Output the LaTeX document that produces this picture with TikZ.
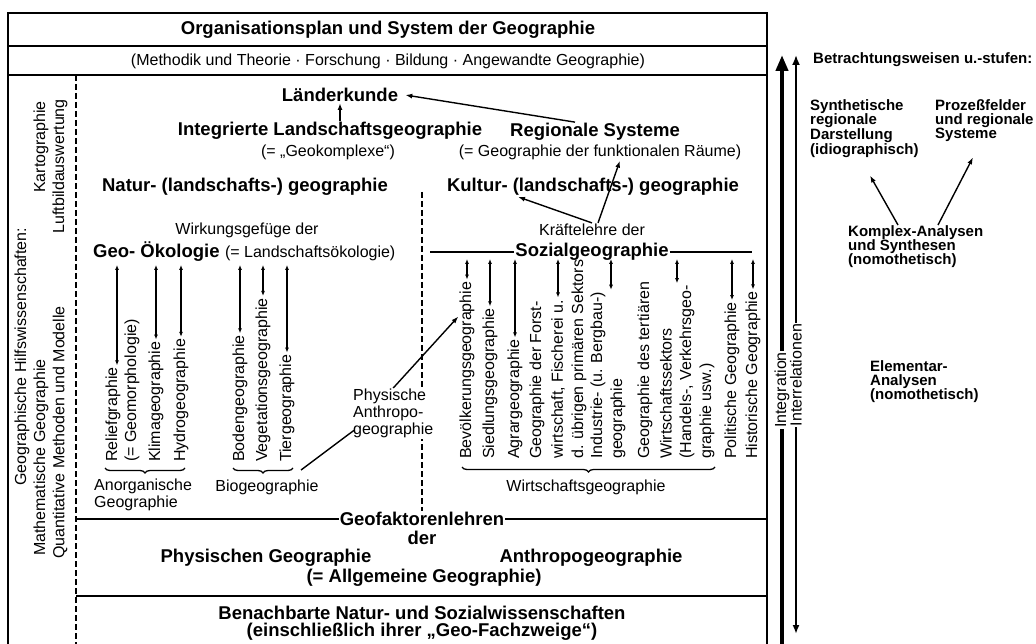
\documentclass[tikz,border=0pt]{standalone}
\usepackage{fontspec}
\setmainfont{Liberation Sans}
\usetikzlibrary{arrows.meta,calc,decorations.pathreplacing}
\begin{document}
\begin{tikzpicture}[x=1pt,y=-1pt,
    kopf/.style={font=\bfseries\fontsize{18.5}{21}\selectfont, inner sep=1pt},
    klein/.style={font=\fontsize{16}{17}\selectfont, inner sep=1pt},
    senk/.style={font=\fontsize{16}{17}\selectfont, rotate=90, anchor=west, inner sep=1pt},
    seite/.style={font=\bfseries\fontsize{15}{14}\selectfont, align=left, anchor=north west, inner sep=0pt}]
  \useasboundingbox (0,0) rectangle (1036,644);

  \tikzset{rahmen/.style={line width=1.8pt}}
  \tikzset{strich/.style={line width=1.4pt, dash pattern=on 6pt off 3pt}}
  \tikzset{linie/.style={line width=1.4pt}}
  \tikzset{pfeil/.style={line width=1.4pt, -{Latex[length=7pt,width=5pt]}}}
  \tikzset{doppel/.style={line width=1.3pt, {Latex[length=5pt,width=4pt]}-{Latex[length=5pt,width=4pt]}, shorten >=1pt}}
  \tikzset{klammer/.style={line width=1.3pt, decorate, decoration={brace, amplitude=5pt}}}

  \draw[rahmen] (8,644) -- (8,13) -- (767,13) -- (767,644);
  \draw[rahmen] (8,46) -- (767,46);
  \draw[rahmen] (8,75) -- (767,75);
  \draw[rahmen] (76,519) -- (767,519);
  \draw[rahmen] (76,596) -- (767,596);
  \draw[strich] (76,75) -- (76,644);
  \draw[strich] (422,192) -- (422,512);

  \node[kopf] (titel) at (388,30) {Organisationsplan und System der Geographie};
  \node[klein] (methodik) at (388,61) {(Methodik und Theorie · Forschung · Bildung · Angewandte Geographie)};

  \node[senk] (hilfs) at (22,487) {Geographische Hilfswissenschaften:};
  \node[senk] (mathe) at (41,557) {Mathematische Geographie};
  \node[senk] (quanti) at (60,560) {Quantitative Methoden und Modelle};
  \node[senk, anchor=east] (karto) at (41,100) {Kartographie};
  \node[senk, anchor=east] (luftbild) at (60,98) {Luftbildauswertung};

  \node[kopf] (laender) at (340,95) {Länderkunde};
  \node[kopf] (integ) at (330,131) {Integrierte Landschaftsgeographie};
  \node[klein] (geokompl) at (328,152) {(= „Geokomplexe“)};
  \node[kopf] (regsys) at (595,132) {Regionale Systeme};
  \node[klein] (funkraum) at (600,152) {(= Geographie der funktionalen Räume)};
  \node[kopf] (natur) at (245,187) {Natur- (landschafts-) geographie};
  \node[kopf] (kultur) at (593,187) {Kultur- (landschafts-) geographie};
  \node[klein] (wirkung) at (247,230) {Wirkungsgefüge der};
  \node[kopf, anchor=west] (oeko) at (92,252) {Geo- Ökologie};
  \node[klein, anchor=base west] (landoeko) at ([xshift=3pt]oeko.base east) {(= Landschaftsökologie)};
  \node[klein] (kraefte) at (592,230) {Kräftelehre der};
  \node[kopf] (sozial) at (592,252) {Sozialgeographie};

  \draw[pfeil] (integ.north -| laender.south) -- (laender.south);
  \draw[pfeil] ([xshift=-20pt]regsys.north) -- ([xshift=6pt]laender.east);
  \draw[pfeil] ([xshift=6pt]kraefte.north) -- ([xshift=20pt]funkraum.south);
  \draw[pfeil] (kraefte.north) -- ([xshift=-75pt]kultur.south);
  \draw[linie] (sozial.west) -- ++(-84,0);
  \draw[linie] (sozial.east) -- ++(82,0);

  \node[senk] (relief) at (113,463) {Reliefgraphie};
  \node[senk] (geomorph) at (132,463) {(= Geomorphologie)};
  \node[senk] (klima) at (156,463) {Klimageographie};
  \node[senk] (hydro) at (181,463) {Hydrogeographie};
  \node[senk] (boden) at (240,463) {Bodengeographie};
  \node[senk] (vegetation) at (263,463) {Vegetationsgeographie};
  \node[senk] (tier) at (287,463) {Tiergeographie};

  \coordinate (oekolinie) at (0,265);
  \draw[doppel] ($(relief.east |- oekolinie)+(4,0)$) -- ($(relief.east)+(4,0)$);
  \draw[doppel] (klima.east |- oekolinie) -- (klima.east);
  \draw[doppel] (hydro.east |- oekolinie) -- (hydro.east);
  \draw[doppel] (boden.east |- oekolinie) -- (boden.east);
  \draw[doppel] (vegetation.east |- oekolinie) -- (vegetation.east);
  \draw[doppel] (tier.east |- oekolinie) -- (tier.east);

  \draw[klammer] (185,468) -- (105,468);
  \draw[klammer] (293,468) -- (233,468);
  \node[klein, anchor=west, align=left] (anorg) at (93,495) {Anorganische\\Geographie};
  \node[klein] (bio) at (267,487) {Biogeographie};

  \node[senk] (bevoelk) at (467,460) {Bevölkerungsgeographie};
  \node[senk] (siedlung) at (490,460) {Siedlungsgeographie};
  \node[senk] (agrar) at (515,460) {Agrargeographie};
  \node[senk] (forst1) at (537,460) {Geographie der Forst-};
  \node[senk] (forst2) at (558,460) {wirtschaft, Fischerei u.};
  \node[senk] (forst3) at (579,460) {d. übrigen primären Sektors};
  \node[senk] (indu1) at (598,460) {Industrie- (u. Bergbau-)};
  \node[senk] (indu2) at (618,460) {geographie};
  \node[senk] (tert1) at (645,460) {Geographie des tertiären};
  \node[senk] (tert2) at (666,460) {Wirtschaftssektors};
  \node[senk] (tert3) at (687,460) {(Handels-, Verkehrsgeo-};
  \node[senk] (tert4) at (707,460) {graphie usw.)};
  \node[senk] (polit) at (732,460) {Politische Geographie};
  \node[senk] (histor) at (753,460) {Historische Geographie};

  \coordinate (soziallinie) at (0,259);
  \draw[doppel] (bevoelk.east |- soziallinie) -- (bevoelk.east);
  \draw[doppel] (siedlung.east |- soziallinie) -- (siedlung.east);
  \draw[doppel] (agrar.east |- soziallinie) -- (agrar.east);
  \draw[doppel] (forst2.east |- soziallinie) -- (forst2.east);
  \draw[doppel] ($(indu1.east |- soziallinie)+(13,0)$) -- ($(indu1.east)+(13,0)$);
  \draw[doppel] ($(tert3.east |- soziallinie)+(-10,0)$) -- ($(tert3.east)+(-10,0)$);
  \draw[doppel] (polit.east |- soziallinie) -- (polit.east);
  \draw[doppel] (histor.east |- soziallinie) -- (histor.east);

  \draw[klammer] (715,467) -- (462,467);
  \node[klein] (wirtschaft) at (586,487) {Wirtschaftsgeographie};

  \node[klein, align=left, fill=white, anchor=north west] (physanth) at (352,388) {Physische\\Anthropo-\\geographie};
  \coordinate (biorechts) at (301,470);
  \draw[linie] (biorechts) -- ($(physanth.south west)+(2,-9)$);
  \draw[pfeil] (physanth.north) -- ($(bevoelk.north west)!0.8!(bevoelk.north east)$);

  \node[kopf, fill=white] (geofak) at (422,519) {Geofaktorenlehren};
  \node[kopf] (der) at (422,538) {der};
  \node[kopf] (physgeo) at (266,558) {Physischen Geographie};
  \node[kopf] (anthropo) at (591,558) {Anthropogeographie};
  \node[kopf] (allgem) at (424,578) {(= Allgemeine Geographie)};
  \node[kopf] (nachbar) at (422,613) {Benachbarte Natur- und Sozialwissenschaften};
  \node[kopf] (einschl) at (422,632) {(einschließlich ihrer „Geo-Fachzweige“)};

  \coordinate (integunten) at (782,644);
  \coordinate (integoben) at (782,55);
  \coordinate (interunten) at (796,634);
  \coordinate (interoben) at (796,55);
  \node[klein, rotate=90] (integr) at (782,390) {Integration};
  \node[klein, rotate=90] (interrel) at (796,375) {Interrelationen};
  \draw[line width=4pt] (integunten) -- (integr.west);
  \draw[line width=4pt, -{Triangle[length=16pt,width=12pt]}] (integr.east) -- (integoben);
  \draw[line width=1.8pt, {Latex[length=9pt,width=7pt]}-] (interunten) -- (interrel.west);
  \draw[line width=1.8pt, -{Latex[length=10pt,width=8pt]}] (interrel.east) -- (interoben);

  \node[seite] (betracht) at (813,52) {Betrachtungsweisen u.-stufen:};
  \node[seite] (synth) at (810,99) {Synthetische\\regionale\\Darstellung\\(idiographisch)};
  \node[seite] (prozess) at (935,99) {Prozeßfelder\\und regionale\\Systeme};
  \node[seite] (komplex) at (848,225) {Komplex-Analysen\\und Synthesen\\(nomothetisch)};
  \node[seite] (element) at (870,360) {Elementar-\\Analysen\\(nomothetisch)};
  \draw[pfeil] ($(komplex.north west)+(50,0)$) -- ($(synth.south west)+(60,18)$);
  \draw[pfeil] ($(komplex.north west)+(90,0)$) -- ($(prozess.south west)+(38,16)$);
\end{tikzpicture}
\end{document}
